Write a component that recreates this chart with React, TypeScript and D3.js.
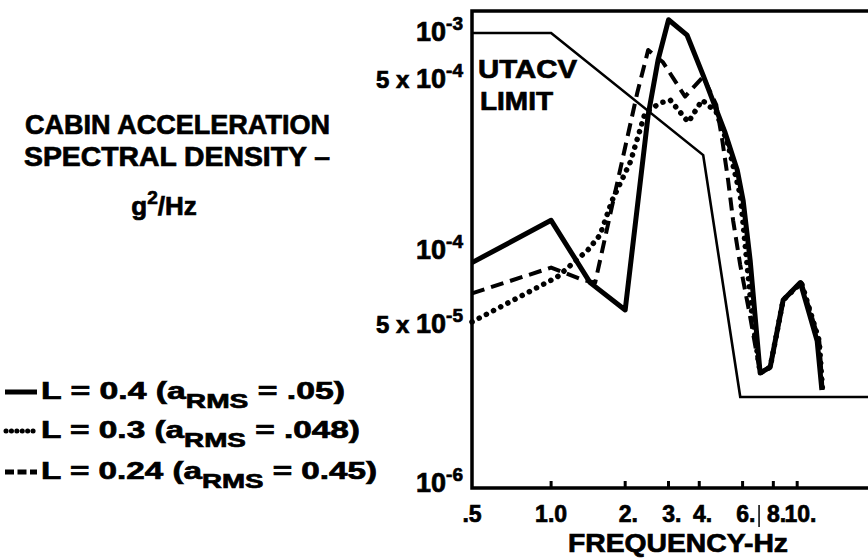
import React from "react";
import * as d3 from "d3";

// ---- axis ticks ----
const freqTicks = [0.5, 1, 2, 3, 4, 6, 8, 10];
const freqTickLabels = [".5", "1.0", "2.", "3.", "4.", "6.", "8.", "10."];
const psdTicks = [1e-3, 5e-4, 1e-4, 5e-5, 1e-6];
const psdTickMantissa = ["", "5 x ", "", "5 x ", ""];
const psdTickExp = ["-3", "-4", "-4", "-5", "-6"];

// ---- UTACV limit ----
const limitFreq = [0.477, 1.0, 4.15, 5.87, 19.4];
const limitPsd = [9.7e-4, 9.7e-4, 2.42e-4, 8.1e-6, 8.1e-6];

// ---- L = 0.4 (solid heavy) ----
const l04Freq = [0.477, 1.0, 1.44, 2.0, 2.48, 2.72, 3.0, 3.57, 4.15, 5.1, 5.71, 6.03, 6.44, 7.07, 7.77, 8.77, 10.3, 12.06, 12.6];
const l04Psd = [8.8e-5, 1.31e-4, 7.3e-5, 5.65e-5, 3.53e-4, 6.5e-4, 1.18e-3, 9.4e-4, 5.2e-4, 2.98e-4, 2.1e-4, 1.58e-4, 9.0e-5, 1.46e-5, 1.69e-5, 6.2e-5, 7.3e-5, 3.2e-5, 9.6e-6];

// ---- L = 0.3 (dotted) ----
const l03Freq = [0.477, 1.06, 1.41, 1.58, 1.77, 2.1, 2.41, 2.77, 3.05, 3.61, 4.11, 4.69, 5.24, 5.87, 6.23, 6.56, 7.07, 7.77, 8.77, 10.4, 12.3, 12.7];
const l03Psd = [5.05e-5, 7.7e-5, 9.9e-5, 1.14e-4, 1.58e-4, 2.27e-4, 3.6e-4, 3.95e-4, 4.06e-4, 3.3e-4, 4.06e-4, 3.63e-4, 2.66e-4, 1.66e-4, 9.0e-5, 5.3e-5, 1.46e-5, 1.69e-5, 6.2e-5, 7.3e-5, 3.2e-5, 9.0e-6];

// ---- L = 0.24 (dashed) ----
const l024Freq = [0.477, 1.0, 1.34, 1.51, 1.79, 2.24, 2.48, 2.85, 3.5, 4.15, 4.69, 4.96, 5.24, 5.49, 5.87, 6.44, 7.07, 7.77, 8.77, 10.4, 12.3, 12.7];
const l024Psd = [6.6e-5, 8.4e-5, 7.5e-5, 7.3e-5, 1.58e-4, 4.35e-4, 7.55e-4, 6.3e-4, 4.2e-4, 5.1e-4, 3.88e-4, 2.79e-4, 1.91e-4, 1.31e-4, 8.6e-5, 5.3e-5, 1.46e-5, 1.69e-5, 6.2e-5, 7.3e-5, 3.2e-5, 9.0e-6];

const FONT = "'Liberation Sans', Arial, Helvetica, sans-serif";

export default function App() {
  const W = 868, H = 560;
  const left = 472, right = 868, top = 11, bottom = 488;

  const x = d3.scaleLog().domain([0.477, 19.4]).range([left, right]);
  // the printed axis is not uniformly logarithmic: map each labelled value to its label
  const y = d3.scaleLog().domain([1e-6, 5e-5, 1e-4, 5e-4, 1e-3]).range([482, 323, 249, 78, 31]);

  const line = d3.line<[number, number]>().x(d => x(d[0])).y(d => y(d[1]));
  const path = (f: number[], p: number[]) => line(f.map((v, i) => [v, p[i]] as [number, number])) || "";

  const ts = { stroke: "#000", strokeWidth: 0.7 } as const;

  return (
    <svg width={W} height={H} style={{ position: "absolute", left: 0, top: 0, background: "#fff" }}
      fontFamily={FONT} fontWeight="bold" fill="#000">
      <rect x={0} y={0} width={W} height={H} fill="#fff" />

      {/* frame */}
      <path d={`M${right},${top}H${left}V${bottom}H${right}`} fill="none" stroke="#000" strokeWidth={3.5} />

      {/* x ticks */}
      {freqTicks.slice(1).map((t, i) => (
        <line key={i} x1={x(t)} x2={x(t)} y1={bottom} y2={bottom - 7} stroke="#000" strokeWidth={3} />
      ))}
      <line x1={x(7)} x2={x(7)} y1={505} y2={527} stroke="#000" strokeWidth={1.5} />
      <g {...ts}>
        {freqTicks.map((t, i) => (
          <text key={i} x={i === 0 ? left : x(t)} dx={freqTickLabels[i].endsWith(".") ? "0.14em" : 0} y={522}
            fontSize={23} textAnchor="middle">{freqTickLabels[i]}</text>
        ))}
        <text x={678} y={552} fontSize={25} textAnchor="middle" textLength={220} lengthAdjust="spacingAndGlyphs">FREQUENCY-Hz</text>

        {/* y tick labels */}
        {psdTicks.map((v, i) => (
          <text key={i} x={463} y={y(v)} dy="0.36em" fontSize={27} textAnchor="end">
            {psdTickMantissa[i] ? <tspan fontSize={24}>{psdTickMantissa[i]}</tspan> : null}
            <tspan>10</tspan>
            <tspan dy={-11} fontSize={19}>{psdTickExp[i]}</tspan>
          </text>
        ))}
      </g>

      {/* curves */}
      <path d={path(limitFreq, limitPsd)} fill="none" stroke="#000" strokeWidth={2.6} />
      <path d={path(l04Freq, l04Psd)} fill="none" stroke="#000" strokeWidth={5} strokeLinejoin="round" />
      <path d={path(l024Freq, l024Psd)} fill="none" stroke="#000" strokeWidth={4} strokeDasharray="13 7" strokeLinejoin="round" />
      <path d={path(l03Freq, l03Psd)} fill="none" stroke="#000" strokeWidth={5.5} strokeDasharray="0.1 8" strokeLinecap="round" />

      <g {...ts}>
        {/* UTACV label */}
        <text x={478} y={78} fontSize={25} textLength={99} lengthAdjust="spacingAndGlyphs">UTACV</text>
        <text x={480} y={110} fontSize={25} textLength={73} lengthAdjust="spacingAndGlyphs">LIMIT</text>

        {/* y title */}
        <text x={25} y={134} fontSize={27} textLength={305} lengthAdjust="spacingAndGlyphs">CABIN ACCELERATION</text>
        <text x={24} y={166} fontSize={27} textLength={306} lengthAdjust="spacingAndGlyphs">SPECTRAL DENSITY –</text>
        <text x={164} y={215} fontSize={26} textAnchor="middle">g<tspan dy={-11} fontSize={19}>2</tspan><tspan dy={11}>/Hz</tspan></text>

        {/* legend */}
        <text x={41} y={399} fontSize={24} textLength={304} lengthAdjust="spacingAndGlyphs">L = 0.4 (a<tspan dy={9} fontSize={20}>RMS</tspan><tspan dy={-9}> = .05)</tspan></text>
        <text x={41} y={438} fontSize={24} textLength={319} lengthAdjust="spacingAndGlyphs">L = 0.3 (a<tspan dy={9} fontSize={20}>RMS</tspan><tspan dy={-9}> = .048)</tspan></text>
        <text x={41} y={479} fontSize={24} textLength={336} lengthAdjust="spacingAndGlyphs">L = 0.24 (a<tspan dy={9} fontSize={20}>RMS</tspan><tspan dy={-9}> = 0.45)</tspan></text>
      </g>
      <line x1={5} x2={37} y1={392} y2={392} stroke="#000" strokeWidth={5} />
      <line x1={6} x2={38} y1={431} y2={431} stroke="#000" strokeWidth={5} strokeDasharray="0.1 5.3" strokeLinecap="round" />
      <line x1={5} x2={37} y1={472} y2={472} stroke="#000" strokeWidth={5} strokeDasharray="9 3.5" />
    </svg>
  );
}
